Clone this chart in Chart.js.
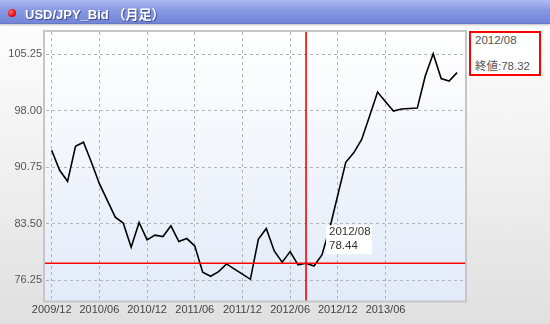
<!DOCTYPE html>
<html>
<head>
<meta charset="utf-8">
<script src="https://cdn.jsdelivr.net/npm/chart.js@4/dist/chart.umd.min.js"></script>
<style>
    html, body { margin: 0; padding: 0; }
    body {
        width: 550px; height: 324px; position: relative; overflow: hidden;
        background: linear-gradient(#ffffff 0%, #f4f4f4 40%, #e0e0e0 100%);
        font-family: "Liberation Sans", Arial, "Noto Sans CJK JP", sans-serif;
    }
    #titlebar {
        position: absolute; left: 0; top: 0; width: 550px; height: 23px; z-index: 2;
        background: linear-gradient(#aebaf0 0%, #8798e2 45%, #7286d8 100%);
        border-bottom: 1px solid #6778c4;
        box-shadow: 0 1px 2px rgba(0,0,0,0.25);
    }
    #titlebar .dot {
        position: absolute; left: 8px; top: 9px; width: 8px; height: 8px; border-radius: 50%;
        background: radial-gradient(circle at 35% 35%, #ff6a6a, #e00000 70%);
    }
    #titlebar .txt {
        position: absolute; left: 25px; top: 4px; color: #fff; font-weight: bold; font-size: 13px;
        text-shadow: 1px 1px 1px #3a4a8a;
    }
    #info {
        position: absolute; left: 469px; top: 31px; width: 68px; height: 41px; z-index: 2;
        border: 2px solid #ff0000; background: #fff;
        color: #555; font-size: 11.5px;
    }
    #info .l1 { position: absolute; left: 4px; top: 1px; }
    #info .l2 { position: absolute; left: 4px; top: 24px; }
    canvas { position: absolute; left: 0; top: 0; }
</style>
</head>
<body>
<div id="titlebar"><div class="dot"></div><div class="txt">USD/JPY_Bid （月足）</div></div>
<div id="info"><div class="l1">2012/08</div><div class="l2">終値:78.32</div></div>
<canvas id="chart" width="550" height="324"></canvas>
<script>
// month labels (monthly close)
const months = [
    '2009/12',
    '2010/01','2010/02','2010/03','2010/04','2010/05','2010/06','2010/07','2010/08','2010/09','2010/10','2010/11','2010/12',
    '2011/01','2011/02','2011/03','2011/04','2011/05','2011/06','2011/07','2011/08','2011/09','2011/10','2011/11','2011/12',
    '2012/01','2012/02','2012/03','2012/04','2012/05','2012/06','2012/07','2012/08','2012/09','2012/10','2012/11','2012/12',
    '2013/01','2013/02','2013/03','2013/04','2013/05','2013/06','2013/07','2013/08','2013/09','2013/10','2013/11','2013/12',
    '2014/01','2014/02','2014/03'
];
const closes = [
    92.94,
    90.36, 88.95, 93.45, 93.97, 91.39, 88.65, 86.50, 84.36, 83.59, 80.50, 83.67, 81.44,
    82.05, 81.86, 83.24, 81.22, 81.61, 80.67, 77.28, 76.77, 77.36, 78.35, 77.69, 77.04,
    76.38, 81.50, 82.90, 80.02, 78.57, 79.93, 78.22, 78.44, 78.09, 79.50, 83.00, 87.20,
    91.39, 92.60, 94.32, 97.32, 100.41, 99.17, 97.96, 98.24, 98.30, 98.35, 102.47, 105.33,
    102.13, 101.82, 102.90
];
const xTickLabels = ['2009/12','2010/06','2010/12','2011/06','2011/12','2012/06','2012/12','2013/06'];
const yTicks = [76.25, 83.50, 90.75, 98.00, 105.25];
const cursorMonth = '2012/08';

const cursorIdx = months.indexOf(cursorMonth);
const points = closes.map((v, i) => ({ x: i, y: v }));
const xTickValues = xTickLabels.map(l => months.indexOf(l));

const overlay = {
    id: 'overlay',
    beforeDraw(chart) {
        const { ctx, chartArea: a } = chart;
        const g = ctx.createLinearGradient(0, a.top, 0, a.bottom);
        g.addColorStop(0, '#ffffff');
        g.addColorStop(1, '#e2ebf9');
        ctx.save();
        ctx.fillStyle = g;
        ctx.fillRect(a.left, a.top, a.right - a.left, a.bottom - a.top);
        ctx.restore();
    },
    beforeDatasetsDraw(chart) {
        const { ctx, chartArea: a } = chart;
        ctx.save();
        ctx.strokeStyle = '#c6c6c6';
        ctx.lineWidth = 2;
        ctx.strokeRect(a.left - 1, a.top - 1, a.right - a.left + 2, a.bottom - a.top + 2);
        ctx.restore();
    },
    afterDatasetsDraw(chart) {
        const { ctx, chartArea: a } = chart;
        const px = chart.scales.x.getPixelForValue(cursorIdx);
        const py = chart.scales.y.getPixelForValue(closes[cursorIdx]);
        ctx.save();
        ctx.strokeStyle = '#ff0000';
        ctx.lineWidth = 1.6;
        ctx.beginPath();
        ctx.moveTo(px, a.top); ctx.lineTo(px, a.bottom);
        ctx.moveTo(a.left, py); ctx.lineTo(a.right, py);
        ctx.stroke();
        // value box
        const bx = px + 20, by = py - 38;
        ctx.fillStyle = '#ffffff';
        ctx.fillRect(bx, by, 46, 29);
        ctx.fillStyle = '#333';
        ctx.font = '11.5px "Liberation Sans", Arial, sans-serif';
        ctx.textBaseline = 'middle';
        ctx.fillText(cursorMonth, bx + 3, by + 7);
        ctx.fillText(closes[cursorIdx].toFixed(2), bx + 3, by + 20.5);
        ctx.restore();
    }
};

new Chart(document.getElementById('chart'), {
    type: 'line',
    data: {
        datasets: [{
            data: points,
            borderColor: '#000000',
            borderWidth: 1.6,
            pointRadius: 0,
            tension: 0,
            fill: false
        }]
    },
    options: {
        responsive: false,
        animation: false,
        layout: { padding: { left: 0, right: 85, top: 32, bottom: 0 } },
        plugins: { legend: { display: false }, tooltip: { enabled: false } },
        scales: {
            x: {
                type: 'linear',
                min: -0.84,
                max: 52,
                afterBuildTicks: s => { s.ticks = xTickValues.map(v => ({ value: v })); },
                afterFit: s => { s.height = 23.5; },
                grid: { color: '#b4b4b4', lineWidth: 1, drawTicks: false },
                border: { display: true, color: 'rgba(0,0,0,0)', dash: [3, 3] },
                ticks: {
                    padding: 3,
                    maxRotation: 0,
                    autoSkip: false,
                    color: '#444',
                    font: { family: '"Liberation Sans", Arial, sans-serif', size: 11 },
                    callback: v => xTickLabels[xTickValues.indexOf(v)]
                }
            },
            y: {
                min: 73.66,
                max: 108.11,
                afterBuildTicks: s => { s.ticks = yTicks.map(v => ({ value: v })); },
                afterFit: s => { s.width = 45; },
                grid: { color: '#b4b4b4', lineWidth: 1, drawTicks: false },
                border: { display: true, color: 'rgba(0,0,0,0)', dash: [3, 3] },
                ticks: {
                    padding: 3,
                    color: '#555',
                    font: { family: '"Liberation Sans", Arial, sans-serif', size: 11 },
                    callback: v => v.toFixed(2)
                }
            }
        }
    },
    plugins: [overlay]
});
</script>
</body>
</html>
